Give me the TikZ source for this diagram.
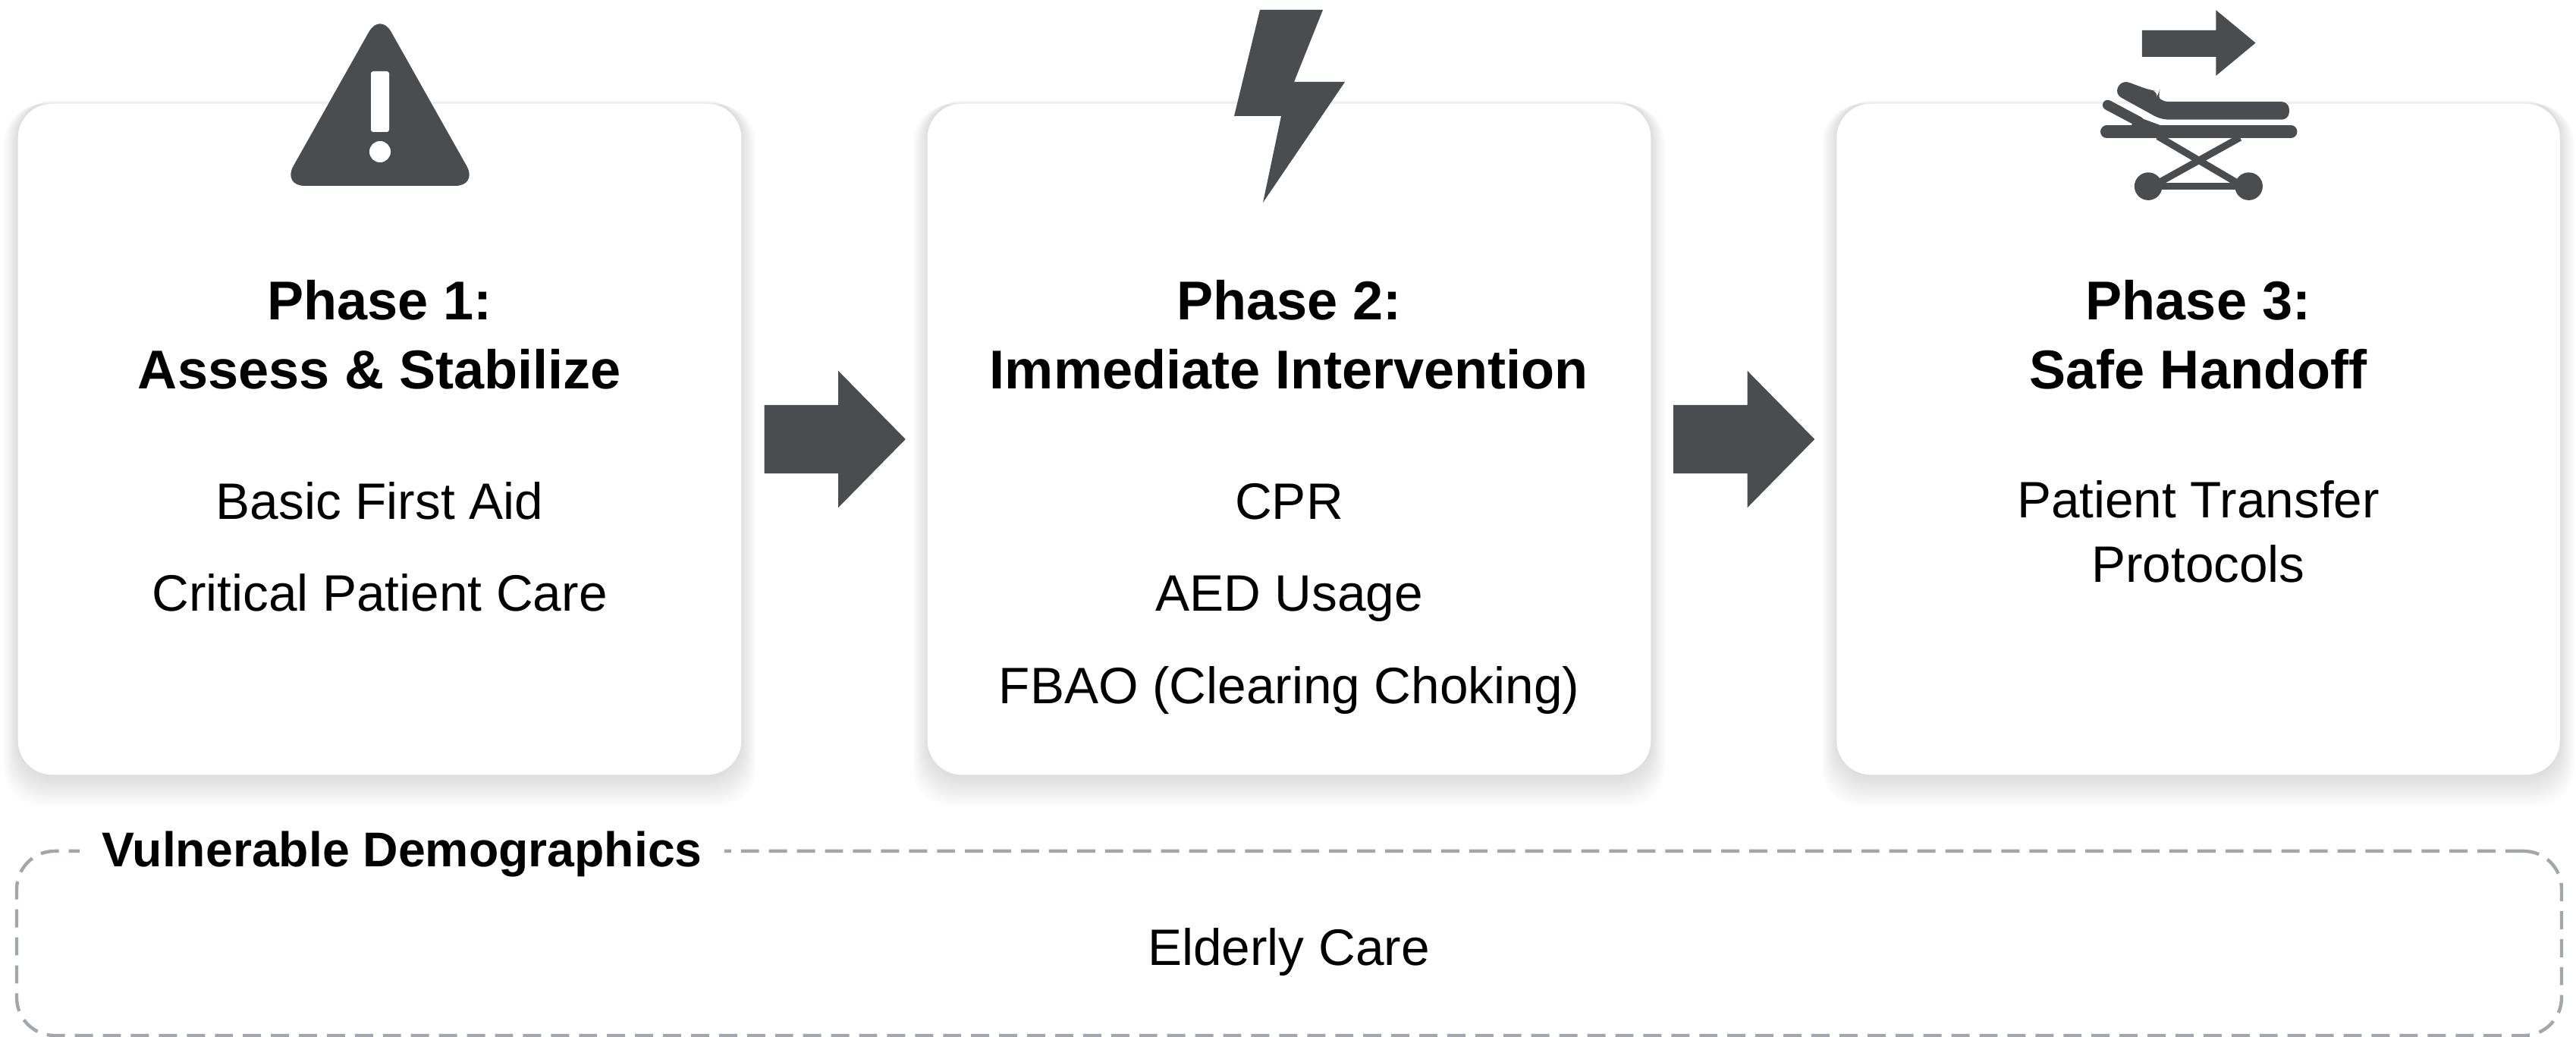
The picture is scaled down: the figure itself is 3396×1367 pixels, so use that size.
\documentclass[tikz,border=0pt]{standalone}
\usepackage{fontspec}
\setmainfont{Liberation Sans}
\usetikzlibrary{shapes.arrows,calc,backgrounds}
\definecolor{icongray}{HTML}{4A4D50}
\definecolor{dashgray}{HTML}{A3A6AA}
\newcommand{\headfont}{\fontsize{20.5}{25.9}\selectfont\bfseries}
\newcommand{\itemfont}{\fontsize{19.2}{24.2}\selectfont}
\tikzset{
  card/.style={rectangle,rounded corners=0.45cm,fill=white,minimum width=9.53cm,minimum height=8.84cm,inner sep=0pt,outer sep=0pt},
  head/.style={align=center,font=\headfont,text=black,inner sep=0pt},
  item/.style={align=center,font=\itemfont,text=black,inner sep=0pt,anchor=base},
  flow/.style={single arrow,fill=icongray,inner xsep=0pt,inner ysep=0.445cm,outer sep=0pt,minimum height=1.86cm,single arrow head extend=0.45cm,single arrow head indent=0pt,single arrow tip angle=91,anchor=tip},
  icon/.style={fill=icongray,draw=none},
  iconline/.style={draw=icongray,line cap=round},
}
\begin{document}
\begin{tikzpicture}[x=0.01cm,y=-0.01cm]
\useasboundingbox (0,0) rectangle (3396,1367);
% cards
\node[card] (card1) at (500.5,579) {};
\node[card] (card2) at (1699.5,579) {};
\node[card] (card3) at (2898,579) {};
% shadows
\begin{scope}[on background layer]
\fill[white] (0,0) rectangle (3396,1367);
\foreach \c in {card1,card2,card3}{
  \foreach \i in {1,...,16}{
    \fill[black,opacity=0.007,rounded corners=0.5cm]
      ([xshift={-\i*0.012cm},yshift={(\i*0.004+0.05)*-1cm+0.1cm}]\c.north west) rectangle
      ([xshift={\i*0.012cm},yshift={-(\i*0.024+0.03)*1cm}]\c.south east);
  }
}
\end{scope}
% arrows
\node[flow] (flow1) at ($(card2.west)+(-29,0)$) {};
\node[flow] (flow2) at ($(card3.west)+(-29,0)$) {};
% headings
\node[head] (h1) at (500.5,441) {Phase 1:\\Assess \& Stabilize};
\node[head] (h2) at (1699.5,441) {Phase 2:\\Immediate Intervention};
\node[head] (h3) at (2898,441) {Phase 3:\\Safe Handoff};
% items
\node[item] (i11) at (500.5,684) {Basic First Aid};
\node[item] (i12) at (500.5,805) {Critical Patient Care};
\node[item] (i21) at (1699.5,684) {CPR};
\node[item] (i22) at (1699.5,805) {AED Usage};
\node[item] (i23) at (1699.5,927) {FBAO (Clearing Choking)};
\node[item,anchor=center] (i31) at (2898,701) {Patient Transfer\\Protocols};
% vulnerable box
\node[draw=dashgray,line width=1.25pt,dash pattern=on 6.8pt off 3.7pt,rounded corners=0.5cm,minimum width=33.53cm,minimum height=2.43cm,inner sep=0pt] (vbox) at (1699.5,1243.5) {};
\node[fill=white,font=\fontsize{18.3}{22}\selectfont\bfseries,inner xsep=0.29cm,inner ysep=0.05cm] (vtitle) at (530,1126) {Vulnerable Demographics};
\node[item] (i41) at (1699,1272) {Elderly Care};
% warning icon
\fill[icon,rounded corners=0.3cm] (501,16) -- (630,245) -- (372,245) -- cycle;
\fill[white,rounded corners=0.03cm] (489,94) rectangle (513,174);
\fill[white] (501,200) circle (0.14cm);
% bolt icon
\fill[icon] (1661,13) -- (1744,13) -- (1706,108) -- (1773,108) -- (1665,267) -- (1689,153) -- (1627,153) -- cycle;
% stretcher icon
\begin{scope}[shift={(2720,0)},x=0.003333cm,y=-0.003333cm]
\fill[icon] (312,120) -- (605,120) -- (605,40) -- (762,170) -- (605,300) -- (605,225) -- (312,225) -- cycle;
\fill[icon,rounded corners=0.1cm] (232,316) -- (345,358) -- (380,362) -- (372,380) -- (385,403) -- (895,403) -- (895,474) -- (388,474) -- (203,372) -- cycle;
\draw[iconline,line width=4.7pt] (172,522) -- (902,522);
\draw[iconline,line width=3.8pt] (176,416) -- (300,482);
\fill[icon] (270,495) -- (300,465) -- (390,498) -- (400,530) -- (300,530) -- cycle;
\draw[draw=icongray,line width=2.6pt] (375,540) -- (690,725);
\draw[draw=icongray,line width=2.6pt] (700,545) -- (385,720);
\draw[draw=icongray,line width=2.6pt] (337,738) -- (735,738);
\fill[icon] (337,738) circle (0.183cm);
\fill[icon] (735,738) circle (0.183cm);
\end{scope}
\end{tikzpicture}
\end{document}
